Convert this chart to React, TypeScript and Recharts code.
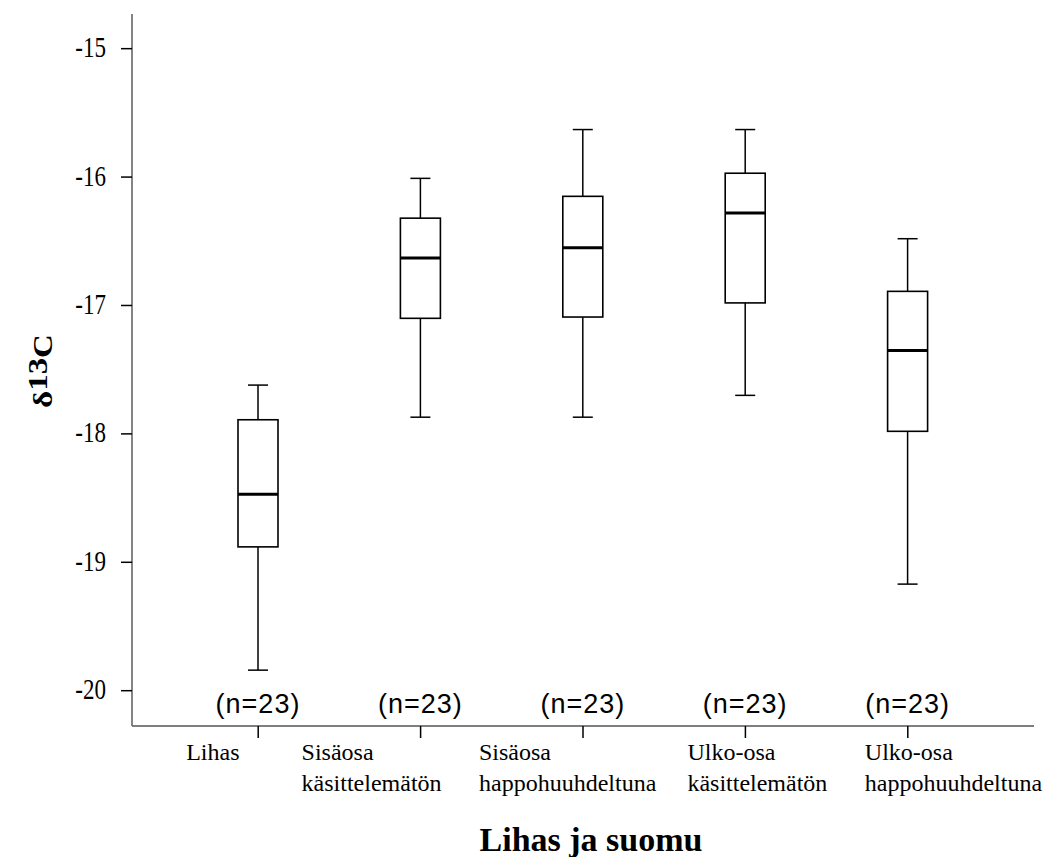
import React from "react";
import { ComposedChart, Bar, XAxis, YAxis } from "recharts";

// categories (two-line tick labels)
const groups = [
  "Lihas",
  "Sisäosa\nkäsittelemätön",
  "Sisäosa\nhappohuuhdeltuna",
  "Ulko-osa\nkäsittelemätön",
  "Ulko-osa\nhappohuuhdeltuna",
];

// box plot statistics
const whiskerMin = [-19.84, -17.87, -17.87, -17.7, -19.17];
const quart1 = [-18.88, -17.1, -17.09, -16.98, -17.98];
const medians = [-18.47, -16.63, -16.55, -16.28, -17.35];
const quart3 = [-17.89, -16.32, -16.15, -15.97, -16.89];
const whiskerMax = [-17.62, -16.01, -15.63, -15.63, -16.48];
const counts = [23, 23, 23, 23, 23];

const yTicks = [-20, -19, -18, -17, -16, -15];

// layout only
const LABEL_DX = [-72, -119, -104, -58, -43];
const N_LABEL_AT = -20.17;
const SERIF = "'Liberation Serif', 'Times New Roman', serif";
const SANS = "'Liberation Sans', Arial, sans-serif";

const data = groups.map((name, i) => ({
  name,
  min: whiskerMin[i],
  q1: quart1[i],
  median: medians[i],
  q3: quart3[i],
  max: whiskerMax[i],
  n: counts[i],
}));

function BoxShape(props: any) {
  const { x, y, width, height, payload } = props;
  if (payload == null) return null;
  const top = Math.min(y, y + height);
  const h = Math.abs(height);
  const { min, max, q1, q3, median, n } = payload;
  // map a value through the bar's own scaled range
  const py = (v: number) => top + ((max - v) / (max - min)) * h;
  const cx = x + width / 2;
  const cap = 10;
  return (
    <g>
      <line x1={cx} x2={cx} y1={py(max)} y2={py(q3)} stroke="#000" strokeWidth={1.5} />
      <line x1={cx} x2={cx} y1={py(q1)} y2={py(min)} stroke="#000" strokeWidth={1.5} />
      <line x1={cx - cap} x2={cx + cap} y1={py(max)} y2={py(max)} stroke="#000" strokeWidth={1.5} />
      <line x1={cx - cap} x2={cx + cap} y1={py(min)} y2={py(min)} stroke="#000" strokeWidth={1.5} />
      <rect x={x} y={py(q3)} width={width} height={py(q1) - py(q3)} fill="#fff" stroke="#000" strokeWidth={1.6} />
      <line x1={x} x2={x + width} y1={py(median)} y2={py(median)} stroke="#000" strokeWidth={3} />
      <text
        x={cx}
        y={py(N_LABEL_AT)}
        textAnchor="middle"
        fontFamily={SANS}
        fontSize={27}
        letterSpacing={1}
        fill="#000"
      >
        {`(n=${n})`}
      </text>
    </g>
  );
}

function XTick(props: any) {
  const { x, y, payload, index } = props;
  const lines = String(payload.value).split("\n");
  const left = x + LABEL_DX[index];
  return (
    <g>
      {lines.map((ln, k) => (
        <text key={k} x={left} y={y + 20 + k * 31} fontFamily={SERIF} fontSize={24} fill="#000">
          {ln}
        </text>
      ))}
    </g>
  );
}

function YTick(props: any) {
  const { x, y, payload } = props;
  // the original tick numbers are tall and narrow
  return (
    <text
      transform={`translate(${x},${y + 8.5}) scale(1,1.28)`}
      x={0}
      y={0}
      textAnchor="end"
      fontFamily={SERIF}
      fontSize={23}
      fill="#000"
    >
      {payload.value}
    </text>
  );
}

export default function App() {
  return (
    <div style={{ position: "absolute", left: 0, top: 0, background: "#fff" }}>
      <ComposedChart
        width={1050}
        height={857}
        data={data}
        margin={{ top: 14, right: 16, left: 0, bottom: 0 }}
      >
        <XAxis
          dataKey="name"
          type="category"
          padding={{ left: 45, right: 45 }}
          height={131}
          tickSize={12}
          tickMargin={2}
          tickLine={{ stroke: "#000", strokeWidth: 1.5 }}
          axisLine={{ stroke: "#555", strokeWidth: 1.4 }}
          tick={<XTick />}
          interval={0}
          label={{
            content: () => (
              <text x={591} y={851} textAnchor="middle" fontFamily={SERIF} fontSize={34} fontWeight="bold" fill="#000">
                Lihas ja suomu
              </text>
            ),
          }}
        />
        <YAxis
          type="number"
          domain={[-20.275, -14.73]}
          ticks={yTicks}
          allowDataOverflow
          width={132}
          tickSize={11}
          tickMargin={15}
          tickLine={{ stroke: "#000", strokeWidth: 1.5 }}
          axisLine={{ stroke: "#666", strokeWidth: 1.6 }}
          tick={<YTick />}
          label={{
            content: () => (
              <text
                transform="translate(52,371) rotate(-90) scale(1.22,1)"
                x={0}
                y={0}
                textAnchor="middle"
                fontFamily={SERIF}
                fontWeight="bold"
                fontSize={27}
                fill="#000"
              >
                δ
                <tspan dy={-5}>13</tspan>
                <tspan dy={5}>C</tspan>
              </text>
            ),
          }}
        />
        <Bar
          dataKey={(d: any) => [d.min, d.max]}
          barSize={40}
          shape={<BoxShape />}
          isAnimationActive={false}
        />
      </ComposedChart>
    </div>
  );
}
